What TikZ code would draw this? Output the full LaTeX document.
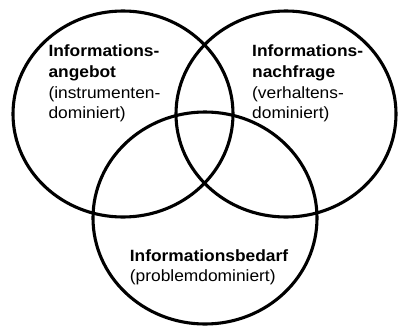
\documentclass[tikz,border=0pt]{standalone}
\usepackage{fontspec}
\setmainfont[FakeStretch=1.065]{Liberation Sans}
\begin{document}
\begin{tikzpicture}[x=1pt,y=-1pt,
  ring/.style={draw=black,line width=3.1pt},
  lbl/.style={anchor=base west,inner sep=0pt,font=\fontsize{16.3}{20}\selectfont},
  hd/.style={lbl,font=\fontsize{16.3}{20}\selectfont\bfseries}]
\useasboundingbox (0,0) rectangle (398,327);
% the three sets
\coordinate (cA) at (123,114);
\coordinate (cN) at (286,114);
\coordinate (cB) at (205,218);
\draw[ring] (cA) ellipse [x radius=110, y radius=103];
\draw[ring] (cN) ellipse [x radius=110, y radius=103];
\draw[ring] (cB) ellipse [x radius=112, y radius=106];
% Informationsangebot
\node[hd]  (a1) at (48.3,56.7)  {Informations-};
\node[hd]  (a2) at (48.3,77.4)  {angebot};
\node[lbl] (a3) at (48.3,98.1)  {(instrumenten-};
\node[lbl] (a4) at (48.3,118.6) {dominiert)};
% Informationsnachfrage
\node[hd]  (n1) at (252,56.7)  {Informations-};
\node[hd]  (n2) at (252,77.4)  {nachfrage};
\node[lbl] (n3) at (252,98.1)  {(verhaltens-};
\node[lbl] (n4) at (252,118.6) {dominiert)};
% Informationsbedarf
\node[hd]  (b1) at (129.7,261.6) {Informationsbedarf};
\node[lbl] (b2) at (129.7,281.8) {(problemdominiert)};
\end{tikzpicture}
\end{document}
